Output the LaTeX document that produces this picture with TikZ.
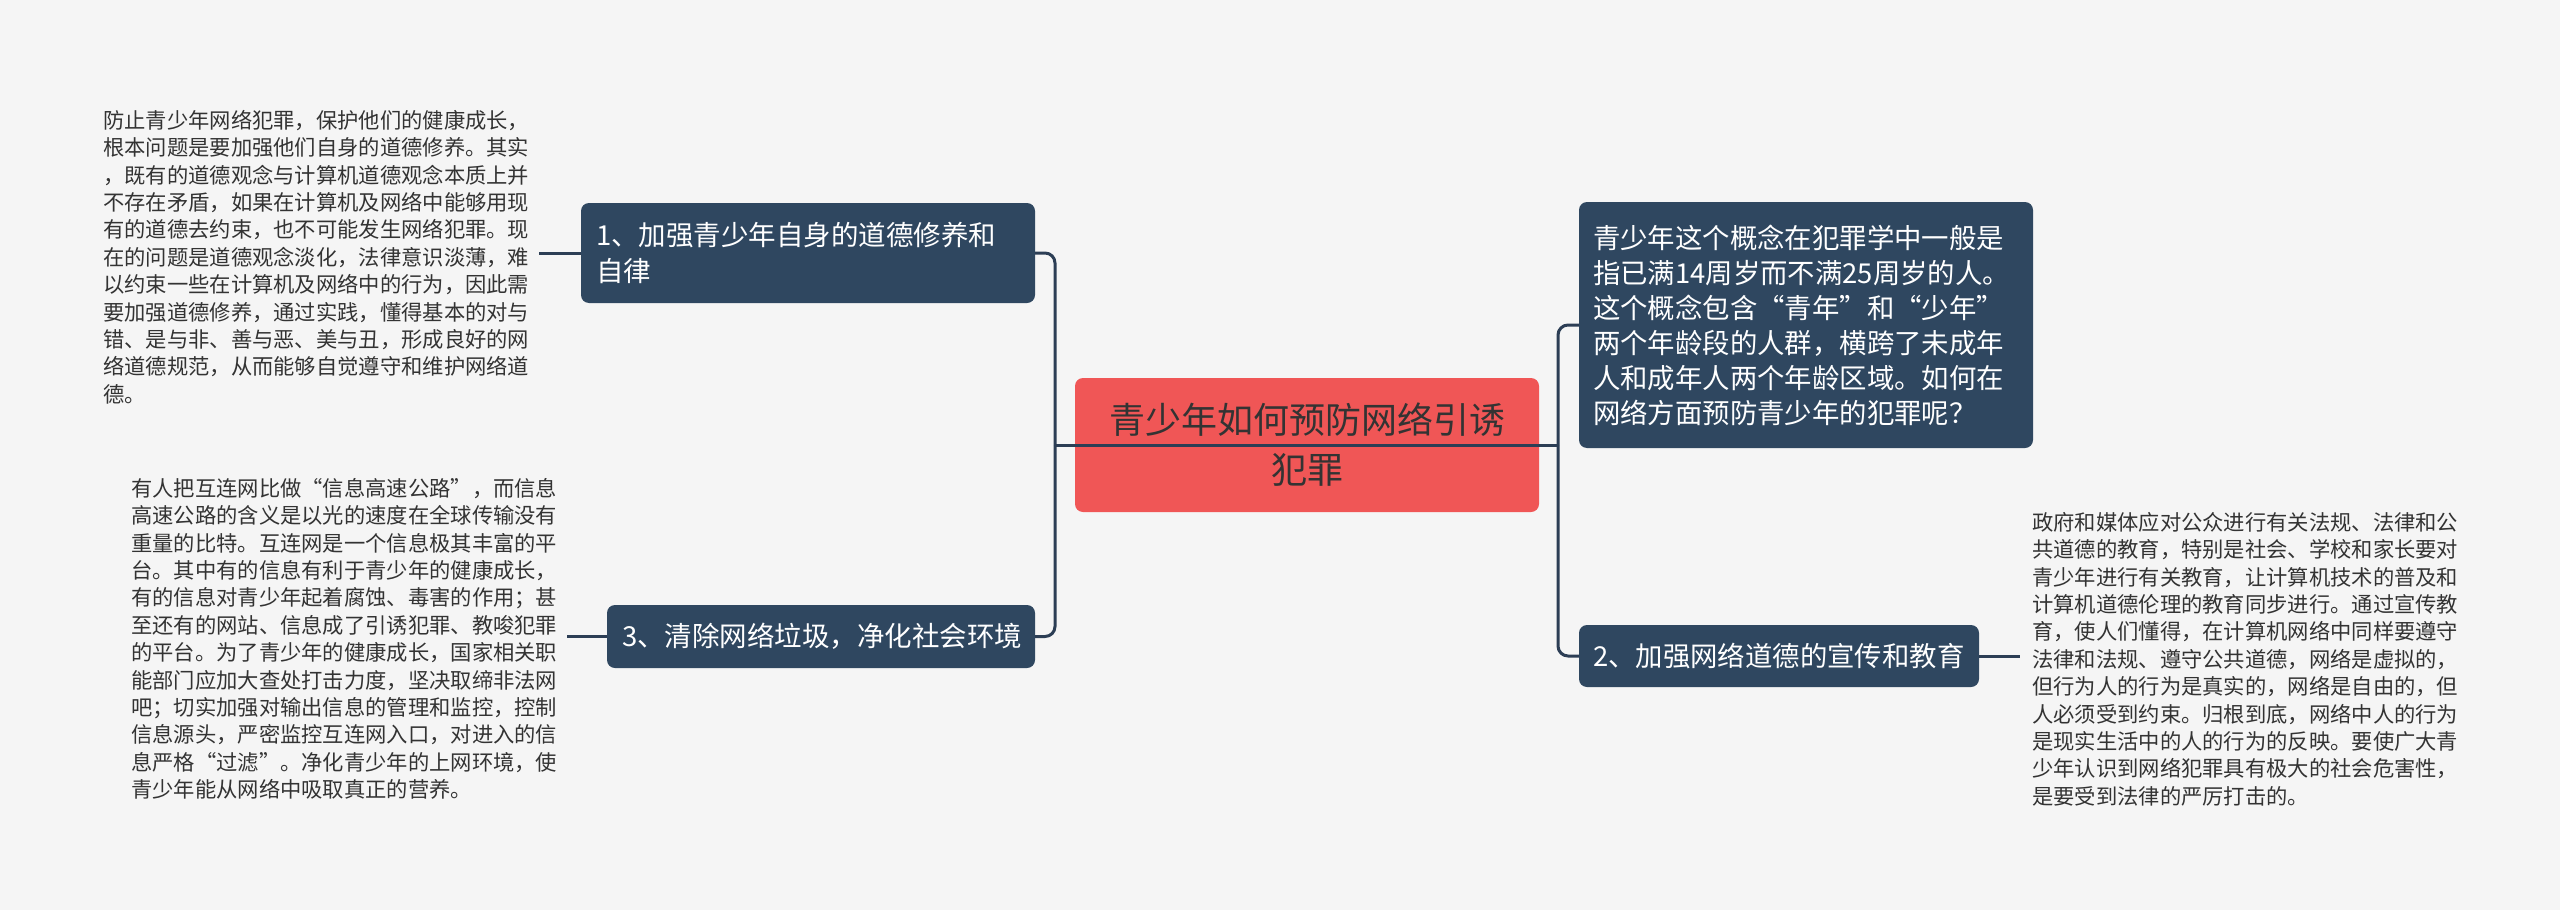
\documentclass[tikz,border=0pt]{standalone}
\usepackage{fontspec}
\setmainfont{Noto Sans CJK SC}
\definecolor{nav}{HTML}{2F4760}
\definecolor{lnc}{HTML}{2C3E55}
\definecolor{bgc}{HTML}{F5F5F5}
\definecolor{mainred}{HTML}{F05656}
\definecolor{txt}{HTML}{333333}
\tikzset{
  dbox/.style={rectangle, rounded corners=8pt, fill=nav, text=white, align=left, inner xsep=15pt, inner ysep=0pt},
  ptext/.style={font=\fontsize{21.3}{27.4}\selectfont, text=txt, align=left, inner sep=0pt},
  conn/.style={draw=lnc, line width=3pt},
  elbow/.style={conn, rounded corners=10pt},
}
\begin{document}
\begin{tikzpicture}[x=1pt,y=-1pt]
\fill[bgc] (0,0) rectangle (2560,910);
\useasboundingbox (0,0) rectangle (2560,910);

% central topic
\node[rectangle, rounded corners=8pt, fill=mainred, text=txt, align=center,
      minimum width=464pt, minimum height=134pt, text width=436pt, inner sep=0pt,
      font=\fontsize{36}{50}\selectfont] (main) at (1307,445)
      {青少年如何预防网络引诱\\犯罪};

% branch boxes
\node[dbox, minimum height=100pt, text width=424pt, font=\fontsize{27.5}{36}\selectfont] (b1) at (808,253)
  {1、加强青少年自身的道德修养和\\自律};
\node[dbox, minimum height=63pt, text width=398pt, font=\fontsize{27.5}{35}\selectfont] (b3) at (821,636.5)
  {3、清除网络垃圾，净化社会环境};
\node[dbox, inner xsep=14pt, minimum height=246pt, text width=426pt, font=\fontsize{27.4}{35}\selectfont] (rb) at (1806,325)
  {青少年这个概念在犯罪学中一般是\\指已满14周岁而不满25周岁的人。\\这个概念包含“青年”和“少年”\\两个年龄段的人群，横跨了未成年\\人和成年人两个年龄区域。如何在\\网络方面预防青少年的犯罪呢？};
\node[dbox, inner xsep=14pt, minimum height=62pt, text width=372pt, font=\fontsize{27.4}{35}\selectfont] (b2) at (1779,656)
  {2、加强网络道德的宣传和教育};

% plain texts
\node[ptext, anchor=north west] (t1) at (103,110)
  {防止青少年网络犯罪，保护他们的健康成长，\\根本问题是要加强他们自身的道德修养。其实\\，既有的道德观念与计算机道德观念本质上并\\不存在矛盾，如果在计算机及网络中能够用现\\有的道德去约束，也不可能发生网络犯罪。现\\在的问题是道德观念淡化，法律意识淡薄，难\\以约束一些在计算机及网络中的行为，因此需\\要加强道德修养，通过实践，懂得基本的对与\\错、是与非、善与恶、美与丑，形成良好的网\\络道德规范，从而能够自觉遵守和维护网络道\\德。};
\node[ptext, anchor=north west] (t3) at (131,478)
  {有人把互连网比做“信息高速公路”，而信息\\高速公路的含义是以光的速度在全球传输没有\\重量的比特。互连网是一个信息极其丰富的平\\台。其中有的信息有利于青少年的健康成长，\\有的信息对青少年起着腐蚀、毒害的作用；甚\\至还有的网站、信息成了引诱犯罪、教唆犯罪\\的平台。为了青少年的健康成长，国家相关职\\能部门应加大查处打击力度，坚决取缔非法网\\吧；切实加强对输出信息的管理和监控，控制\\信息源头，严密监控互连网入口，对进入的信\\息严格“过滤”。净化青少年的上网环境，使\\青少年能从网络中吸取真正的营养。};
\node[ptext, anchor=north west] (t2) at (2032,512)
  {政府和媒体应对公众进行有关法规、法律和公\\共道德的教育，特别是社会、学校和家长要对\\青少年进行有关教育，让计算机技术的普及和\\计算机道德伦理的教育同步进行。通过宣传教\\育，使人们懂得，在计算机网络中同样要遵守\\法律和法规、遵守公共道德，网络是虚拟的，\\但行为人的行为是真实的，网络是自由的，但\\人必须受到约束。归根到底，网络中人的行为\\是现实生活中的人的行为的反映。要使广大青\\少年认识到网络犯罪具有极大的社会危害性，\\是要受到法律的严厉打击的。};

% junctions
\coordinate (jl) at (1055,445);
\coordinate (jr) at (1558,445);

% connectors
\draw[elbow] (jl) |- (b1.east);
\draw[elbow] (jl) |- (b3.east);
\draw[elbow] (jr) |- (rb.west);
\draw[elbow] (jr) |- (b2.west);
\draw[conn] (main.center) -- (jl);
\draw[conn] (main.center) -- (jr);
\draw[conn] (b1.west) -- ([xshift=10pt]b1.west -| t1.east);
\draw[conn] (b3.west) -- ([xshift=10pt]b3.west -| t3.east);
\draw[conn] (b2.east) -- ([xshift=-12pt]b2.east -| t2.west);
\end{tikzpicture}
\end{document}
